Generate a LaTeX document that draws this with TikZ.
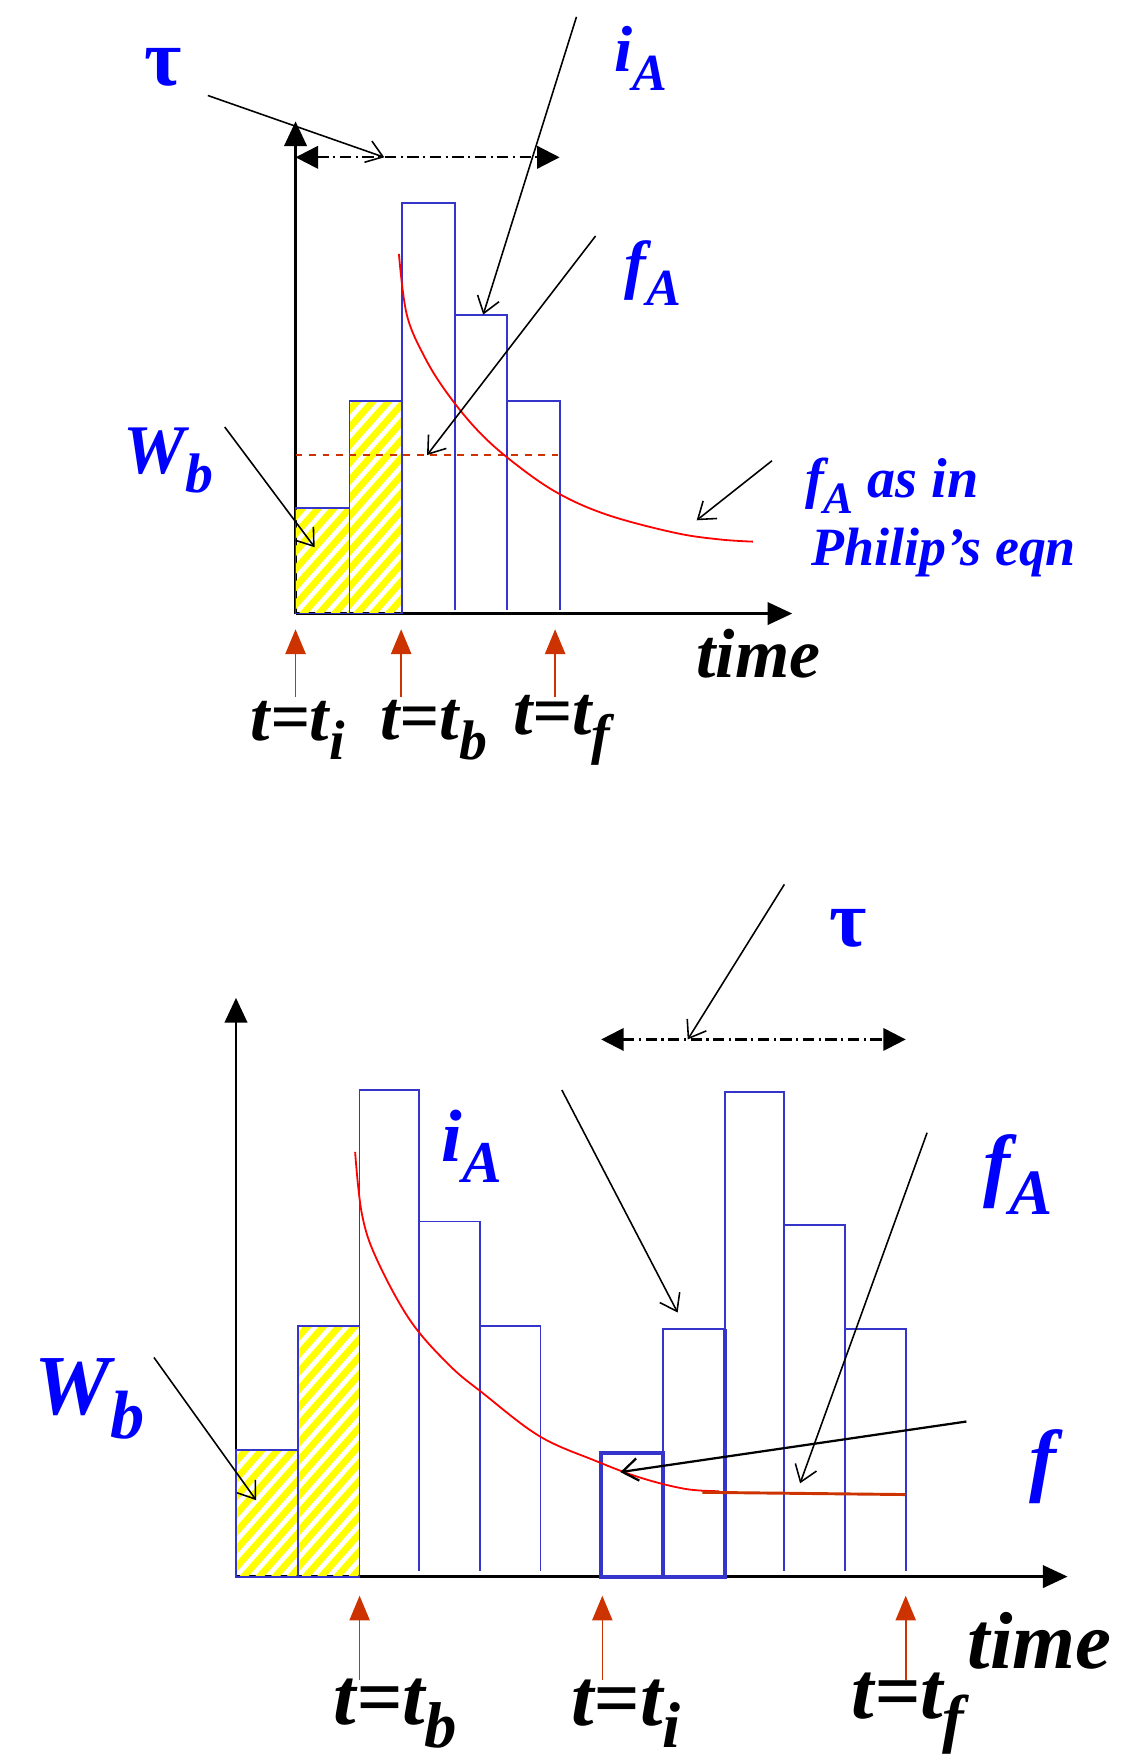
\documentclass[tikz,border=0pt]{standalone}
\usepackage{fontspec}
\setmainfont{Liberation Serif}
\usepackage{graphicx}
\usetikzlibrary{arrows.meta}
\definecolor{barblue}{HTML}{3535CC}
\definecolor{lblue}{HTML}{0000FF}
\definecolor{ored}{HTML}{CC3300}
\definecolor{hyel}{HTML}{FFFF00}
\newcommand\lsub[1]{\raisebox{-0.28em}{\scalebox{0.8}{#1}}}
\newcommand\hatchbar[4]{%
  \begin{scope}
    \clip (#1,#4) rectangle (#2,#3);
    \foreach \s in {0,...,22} {\draw[hyel, line width=3pt] ({#1-240+\s*14},{#4+10}) -- ++(240,-270);}
  \end{scope}}
\tikzset{
  barst/.style={draw=barblue, line width=0.8pt},
  thickbar/.style={draw=barblue, line width=1.7pt},
  axisarr/.style={line width=1.1pt, -{Triangle[length=11pt,width=10pt]}},
  pointer/.style={line width=0.7pt, -{Straight Barb[length=7pt,width=10pt]}},
  redtick/.style={draw=ored, line width=0.7pt, -{Triangle[length=11pt,width=9pt]}, fill=ored},
  spanarr/.style={line width=1pt, dash pattern=on 5pt off 2pt on 1pt off 2pt, {Triangle[length=10pt,width=10pt]}-{Triangle[length=10pt,width=10pt]}},
  redcurve/.style={draw=red, line width=0.8pt},
  bluelab/.style={text=lblue, font=\bfseries\itshape\fontsize{#1}{#1}\selectfont, inner sep=0pt},
  blacklab/.style={text=black, font=\bfseries\itshape\fontsize{#1}{#1}\selectfont, inner sep=0pt},
}
\begin{document}
\begin{tikzpicture}[x=0.5pt,y=-0.5pt]
\useasboundingbox (0,0) rectangle (1013,1568);
\fill[white] (0,0) rectangle (1013,1568);

%%%%%%%%%%%%%%%% TOP DIAGRAM %%%%%%%%%%%%%%%%
\coordinate (o1) at (263,546);
\coordinate (ytop1) at (263,108);
\coordinate (xend1) at (705,546);
\draw[axisarr] (o1) -- (ytop1);
\draw[axisarr] (o1) -- (xend1);
% hatched bars
\hatchbar{263}{311}{452}{546}
\hatchbar{311}{358}{357}{546}
\draw[barst] (263,546) rectangle (311,452);
\draw[barst] (311,546) rectangle (358,357);
% open bars
\draw[barst] (358,543) |- (405,181) -- (405,543);
\draw[barst] (405,543) |- (451,280) -- (451,543);
\draw[barst] (451,543) |- (498,357) -- (498,543);
% dashed level
\draw[ored, line width=0.8pt, dashed] (263,405) -- (498,405);
% red curve
\draw[redcurve] plot[smooth, tension=0.6] coordinates {(355,226) (362,280) (378,318) (398,350) (425,383) (455,410) (495,438) (540,458) (600,474) (640,480) (670,482)};
% tau span
\coordinate (sl1) at (263,140);
\coordinate (sr1) at (498,140);
\draw[spanarr] (sl1) -- (sr1);
% labels
\node[bluelab=36pt] (tau1) at (145,60) {\upshape τ};
\node[bluelab=29pt] (iA1) at (570,52) {i\lsub{A}};
\node[bluelab=29pt] (fA1) at (581,243) {f\lsub{A}};
\node[bluelab=31pt] (Wb1) at (150,410) {W\lsub{b}};
\node[bluelab=25pt, anchor=west] (ph1) at (716,432) {f\lsub{A} as in};
\node[bluelab=24pt, anchor=west] (ph2) at (722,492) {Philip’s eqn};
\node[blacklab=31pt] (time1) at (675,582) {time};
\node[blacklab=31pt] (ti1) at (265,650) {t=t\lsub{i}};
\node[blacklab=31pt] (tb1) at (386,650) {t=t\lsub{b}};
\node[blacklab=31pt] (tf1) at (500,650) {t=t\lsub{f}};
% pointers
\coordinate (p1a) at (185,85);   \coordinate (p1b) at (342,140);
\coordinate (p2a) at (513,15);   \coordinate (p2b) at (430,280);
\coordinate (p3a) at (530,210);  \coordinate (p3b) at (380,405);
\coordinate (p4a) at (200,380);  \coordinate (p4b) at (280,487);
\coordinate (p5a) at (687,410);  \coordinate (p5b) at (620,463);
\draw[pointer] (p1a) -- (p1b);
\draw[pointer] (p2a) -- (p2b);
\draw[pointer] (p3a) -- (p3b);
\draw[pointer] (p4a) -- (p4b);
\draw[pointer] (p5a) -- (p5b);
% red time markers
\foreach \xx/\nm in {263/ri1, 357/rb1, 494/rf1} {
  \coordinate (\nm a) at (\xx,620);
  \coordinate (\nm b) at (\xx,560);
  \draw[redtick] (\nm a) -- (\nm b);
}

%%%%%%%%%%%%%%%% BOTTOM DIAGRAM %%%%%%%%%%%%%%%%
\coordinate (o2) at (210,1403);
\coordinate (ytop2) at (210,888);
\coordinate (xend2) at (950,1403);
\draw[axisarr] (o2) -- (ytop2);
\draw[axisarr] (o2) -- (xend2);
\hatchbar{210}{265}{1290}{1403}
\hatchbar{265}{320}{1180}{1403}
\draw[barst] (210,1403) rectangle (265,1290);
\draw[barst] (265,1403) rectangle (320,1180);
\draw[barst] (320,1398) |- (373,970) -- (373,1398);
\draw[barst] (373,1398) |- (427,1087) -- (427,1398);
\draw[barst] (427,1398) |- (481,1180) -- (481,1398);
\draw[barst] (590,1403) |- (645,1183) -- (645,1403);
\draw[barst] (645,1398) |- (698,972) -- (698,1398);
\draw[barst] (698,1398) |- (752,1090) -- (752,1398);
\draw[barst] (752,1398) |- (806,1183) -- (806,1398);
\draw[thickbar] (535,1403) rectangle (590,1293);
\draw[thickbar] (590,1403) -- (645,1403) -- (645,1183);
% red curve + level
\draw[redcurve] plot[smooth, tension=0.6] coordinates {(316,1025) (322,1080) (335,1120) (365,1175) (400,1215) (430,1240) (480,1278) (530,1300) (570,1315) (610,1325) (640,1327)};
\draw[ored, line width=1.3pt] (625,1328) -- (806,1330);
% tau span
\coordinate (sl2) at (535,925);
\coordinate (sr2) at (806,925);
\draw[spanarr] (sl2) -- (sr2);
% labels
\node[bluelab=36pt] (tau2) at (755,826) {\upshape τ};
\node[bluelab=33pt] (iA2) at (420,1020) {i\lsub{A}};
\node[bluelab=36pt] (fA2) at (906,1045) {f\lsub{A}};
\node[bluelab=36pt] (f2) at (928,1305) {f};
\node[bluelab=38pt] (Wb2) at (80,1245) {W\lsub{b}};
\node[blacklab=36pt] (time2) at (925,1460) {time};
\node[blacklab=36pt] (tb2) at (352,1525) {t=t\lsub{b}};
\node[blacklab=36pt] (ti2) at (557,1525) {t=t\lsub{i}};
\node[blacklab=36pt] (tf2) at (808,1525) {t=t\lsub{f}};
% pointers
\coordinate (q1a) at (698,787);  \coordinate (q1b) at (612,925);
\coordinate (q2a) at (500,970);  \coordinate (q2b) at (603,1168);
\coordinate (q3a) at (825,1008); \coordinate (q3b) at (712,1320);
\coordinate (q4a) at (860,1265); \coordinate (q4b) at (552,1310);
\coordinate (q5a) at (137,1208); \coordinate (q5b) at (228,1335);
\draw[pointer] (q1a) -- (q1b);
\draw[pointer] (q2a) -- (q2b);
\draw[pointer] (q3a) -- (q3b);
\draw[pointer, line width=1pt] (q4a) -- (q4b);
\draw[pointer] (q5a) -- (q5b);
\foreach \xx/\nm in {320/rb2, 536/ri2, 806/rf2} {
  \coordinate (\nm a) at (\xx,1495);
  \coordinate (\nm b) at (\xx,1420);
  \draw[redtick] (\nm a) -- (\nm b);
}
\end{tikzpicture}
\end{document}
